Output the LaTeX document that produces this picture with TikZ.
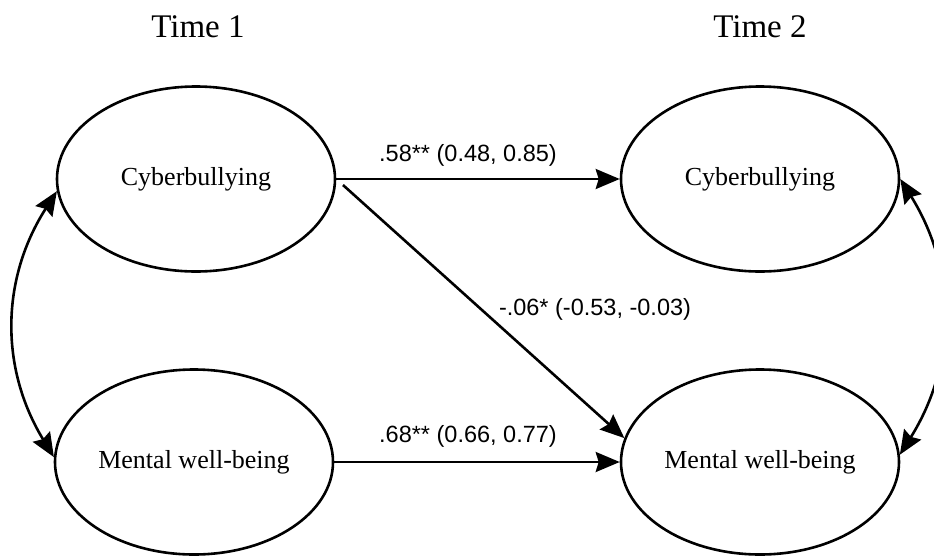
\documentclass[tikz,border=0pt]{standalone}
\usepackage{fontspec}
\setmainfont{Liberation Serif}
\newfontfamily\coeffont{Liberation Sans}
\usetikzlibrary{shapes.geometric,arrows.meta}
\begin{document}
\begin{tikzpicture}[x=1pt,y=-1pt,
  latent/.style={ellipse,draw,line width=2.6pt,minimum width=278pt,minimum height=185pt,inner sep=0pt,font=\fontsize{26}{30}\selectfont},
  tip/.tip={Stealth[length=24pt,width=20pt,inset=3pt]},
  pathArrow/.style={line width=2.6pt,-tip},
  covArrow/.style={line width=2.6pt,tip-tip},
  coef/.style={font=\coeffont\fontsize{23.5}{28}\selectfont,anchor=base,inner sep=0pt},
  timelbl/.style={font=\fontsize{33}{38}\selectfont,anchor=base,inner sep=0pt}]
\useasboundingbox (0,0) rectangle (934,555);
\clip (0,0) rectangle (934,555);
\node[timelbl] (t1) at (198,37) {Time 1};
\node[timelbl] (t2) at (760,37) {Time 2};
\node[latent] (cb1) at (196,179) {Cyberbullying};
\node[latent] (cb2) at (760,179) {Cyberbullying};
\node[latent] (mw1) at (194,462) {Mental well-being};
\node[latent] (mw2) at (760,462) {Mental well-being};
\draw[pathArrow] (cb1.east) -- (cb2.west);
\draw[pathArrow] (mw1.east) -- (mw2.west);
\draw[pathArrow,shorten <=9pt] (cb1.east) -- (mw2.170);
\draw[covArrow] (cb1.185) to[bend right=32] (mw1.178);
\draw[covArrow] (cb2.0) to[bend left=32] (mw2.3);
\node[coef] (l1) at (468,161) {.58** (0.48, 0.85)};
\node[coef] (l2) at (468,442) {.68** (0.66, 0.77)};
\node[coef] (l3) at (595,315) {-.06* (-0.53, -0.03)};
\end{tikzpicture}
\end{document}
